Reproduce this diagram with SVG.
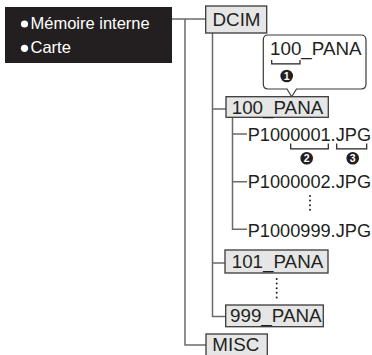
<svg xmlns="http://www.w3.org/2000/svg" width="372" height="355" viewBox="0 0 372 355">
<style>
text{font-family:"Liberation Sans",Arial,sans-serif;fill:#231f20}
.fold{font-size:18.8px}
.file{font-size:18.2px}
.box{fill:#e6e6e6;stroke:#3a3a3a;stroke-width:1.3}
.ln{fill:none;stroke:#6a6a6a;stroke-width:1.5}
.br{fill:none;stroke:#231f20;stroke-width:1.2}
.dots{fill:none;stroke:#231f20;stroke-width:2;stroke-linecap:round;stroke-dasharray:0 4.6}
.num{font-size:10.5px;font-weight:bold;fill:#fff;text-anchor:middle}
.wt{fill:#fff;font-size:16.5px}
</style>
<rect width="372" height="355" fill="#fff"/>
<g id="connectors">
<path class="ln" d="M172,19 H206"/>
<path class="ln" d="M185,19 V345 H206"/>
<path class="ln" d="M212.5,33 V316.5 H225.5 M212.5,109 H226 M212.5,263 H225"/>
<path class="ln" d="M232.5,117.5 V229.3 H247 M232.5,134 H247 M232.5,181.7 H247"/>
</g>
<g id="media">
<rect x="5" y="7" width="167" height="56" fill="#231f20"/>
<circle cx="24.5" cy="24" r="3.6" fill="#fff"/>
<text class="wt" x="30.5" y="29.3">Mémoire interne</text>
<circle cx="24.5" cy="48.3" r="3.6" fill="#fff"/>
<text class="wt" x="30.5" y="53.3">Carte</text>
</g>
<g id="dcim">
<rect class="box" x="205.7" y="6" width="61" height="27"/>
<text class="fold" x="212.5" y="25.7">DCIM</text>
</g>
<g id="callout">
<path d="M268,35 H361 Q366,35 366,40 V84 Q366,89 361,89 H296.5 L291.7,96.7 L287,89 H268 Q263.3,89 263.3,84 V40 Q263.3,35 268,35 Z" fill="#fff" stroke="#3a3a3a" stroke-width="1.2"/>
<text class="fold" x="270" y="55">100_PANA</text>
<path class="br" d="M271.7,60 V63.8 H300 V60"/>
<circle cx="286.7" cy="76" r="6.3" fill="#231f20"/>
<text class="num" x="286.7" y="79.7">1</text>
</g>
<g id="f100">
<rect class="box" x="226" y="96.7" width="102.3" height="20.6"/>
<text class="fold" x="231.7" y="113.5">100_PANA</text>
</g>
<g id="p1">
<text class="file" x="247.7" y="140.7">P1000001.JPG</text>
<path class="br" d="M290.7,143.5 V148.8 H328.3 V143.5"/>
<circle cx="306.7" cy="158.3" r="6.3" fill="#231f20"/>
<text class="num" x="306.7" y="162">2</text>
<path class="br" d="M336.7,143.5 V148.8 H366.7 V143.5"/>
<circle cx="352.7" cy="158.3" r="6.3" fill="#231f20"/>
<text class="num" x="352.7" y="162">3</text>
</g>
<g id="p2">
<text class="file" x="247.7" y="188.3">P1000002.JPG</text>
</g>
<path class="dots" d="M310,196 V212"/>
<g id="p999">
<text class="file" x="247.7" y="236.7">P1000999.JPG</text>
</g>
<g id="f101">
<rect class="box" x="225" y="250" width="103" height="23"/>
<text class="fold" x="231.7" y="268.3">101_PANA</text>
</g>
<path class="dots" d="M276.7,279 V298"/>
<g id="f999">
<rect class="box" x="225.7" y="305" width="97.6" height="21.7"/>
<text class="fold" x="230" y="322.3">999_PANA</text>
</g>
<g id="misc">
<rect class="box" x="206" y="334" width="61.3" height="24"/>
<text class="fold" x="212.3" y="351">MISC</text>
</g>
</svg>
